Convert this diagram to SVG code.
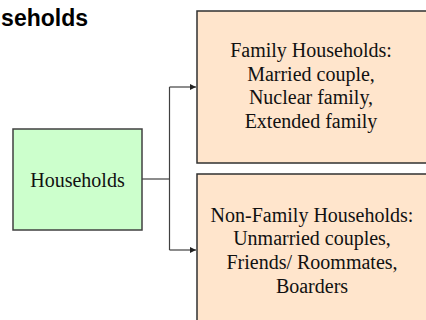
<svg xmlns="http://www.w3.org/2000/svg" width="426" height="320" viewBox="0 0 426 320">
  <style>
    .title { font-family: 'Liberation Sans', Arial, sans-serif; font-weight: bold; font-size: 23px; fill: #000; }
    .label { font-family: 'Liberation Serif', 'Times New Roman', Times, serif; font-size: 20px; fill: #111; text-anchor: middle; }
    .root { fill: #ccffcc; stroke: #404040; stroke-width: 1.5; }
    .leaf { fill: #ffe5cc; stroke: #303030; stroke-width: 1.5; }
    .wire { fill: none; stroke: #404040; stroke-width: 1.2; }
  </style>
  <defs>
    <marker id="arrow" viewBox="0 0 10 10" refX="10" refY="5" markerWidth="6" markerHeight="6" orient="auto" markerUnits="userSpaceOnUse">
      <path d="M0,0 L10,5 L0,10 z" fill="#222"/>
    </marker>
  </defs>
  <rect width="426" height="320" fill="#ffffff"/>

  <!-- page heading, partly past the left edge -->
  <text class="title" x="88" y="25.5" text-anchor="end">Households</text>

  <g id="connectors">
    <path class="wire" d="M142,179 H169.5"/>
    <path class="wire" d="M169.5,87 V250"/>
    <path class="wire" d="M169.5,87 H196" marker-end="url(#arrow)"/>
    <path class="wire" d="M169.5,250 H196" marker-end="url(#arrow)"/>
  </g>

  <g id="households">
    <rect class="root" x="13" y="129" width="129" height="101"/>
    <text class="label" x="77.5" y="187">Households</text>
  </g>

  <g id="family-households">
    <rect class="leaf" x="197" y="11" width="240" height="152"/>
    <text class="label" x="311" y="57">Family Households:</text>
    <text class="label" x="311" y="80.5">Married couple,</text>
    <text class="label" x="311" y="104">Nuclear family,</text>
    <text class="label" x="311" y="127.5">Extended family</text>
  </g>

  <g id="non-family-households">
    <rect class="leaf" x="197" y="174" width="240" height="160"/>
    <text class="label" x="312" y="221.5">Non-Family Households:</text>
    <text class="label" x="312" y="245">Unmarried couples,</text>
    <text class="label" x="312" y="269">Friends/ Roommates,</text>
    <text class="label" x="312" y="293">Boarders</text>
  </g>
</svg>
